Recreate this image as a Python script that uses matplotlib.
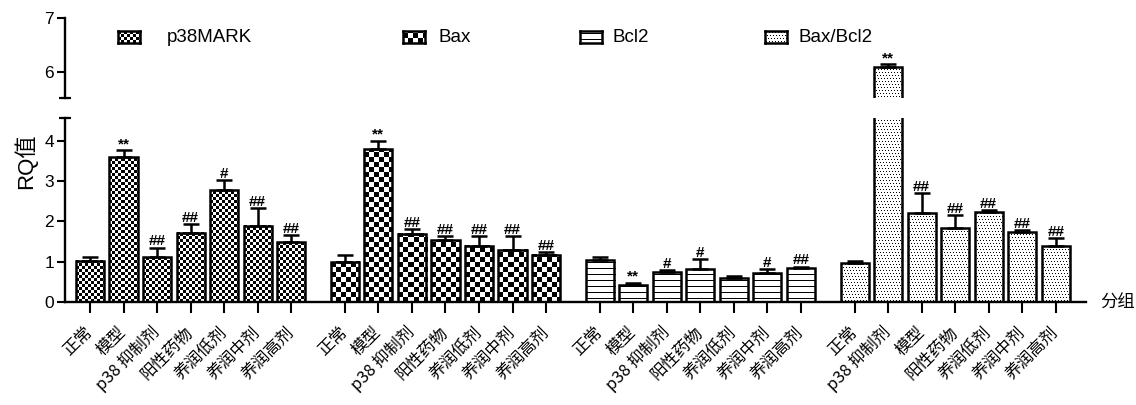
import numpy as np
import matplotlib
matplotlib.use("Agg")
import matplotlib.pyplot as plt

plt.rcParams['font.family'] = ['Liberation Sans Narrow', 'Liberation Sans', 'Noto Sans CJK SC', 'DejaVu Sans']

groups = ['p38MARK', 'Bax', 'Bcl2', 'Bax/Bcl2']
labels_std = ['正常', '模型', 'p38 抑制剂', '阳性药物', '养润低剂', '养润中剂', '养润高剂']
labels_ratio = ['正常', 'p38 抑制剂', '模型', '阳性药物', '养润低剂', '养润中剂', '养润高剂']

p38_vals = [1.03, 3.60, 1.11, 1.72, 2.78, 1.89, 1.49]
p38_err = [0.08, 0.17, 0.24, 0.22, 0.24, 0.45, 0.17]
p38_sig = ['', '**', '##', '##', '#', '##', '##']

bax_vals = [1.00, 3.80, 1.69, 1.53, 1.40, 1.30, 1.17]
bax_err = [0.17, 0.20, 0.12, 0.11, 0.24, 0.34, 0.06]
bax_sig = ['', '**', '##', '##', '##', '##', '##']

bcl2_vals = [1.04, 0.41, 0.74, 0.81, 0.60, 0.73, 0.84]
bcl2_err = [0.07, 0.07, 0.06, 0.26, 0.05, 0.08, 0.04]
bcl2_sig = ['', '**', '#', '#', '', '#', '##']

ratio_vals = [0.97, 6.09, 2.22, 1.85, 2.24, 1.73, 1.40]
ratio_err = [0.06, 0.05, 0.49, 0.30, 0.04, 0.05, 0.19]
ratio_sig = ['', '**', '##', '##', '##', '##', '##']

series = [
    (p38_vals, p38_err, p38_sig, labels_std, 'fine'),
    (bax_vals, bax_err, bax_sig, labels_std, 'checker'),
    (bcl2_vals, bcl2_err, bcl2_sig, labels_std, 'stripes'),
    (ratio_vals, ratio_err, ratio_sig, labels_ratio, 'dots'),
]


def pattern(kind, i, j):
    if kind == 'fine':
        return ((i // 3 + j // 3) % 2).astype(float)
    if kind == 'checker':
        return ((i // 5 + j // 5) % 2).astype(float)
    if kind == 'stripes':
        return (i % 6 == 3).astype(float)
    # dots
    return ((i % 3 == 1) & ((j + i // 3) % 3 == 1)).astype(float)


def fill_bar(ax, bar, kind):
    x0, y0 = bar.get_x(), bar.get_y()
    x1, y1 = x0 + bar.get_width(), y0 + bar.get_height()
    lo, hi = ax.get_ylim()
    y0c, y1c = max(y0, lo), min(y1, hi)
    if y1c <= y0c:
        return
    (px0, py0), (px1, py1) = ax.transData.transform([(x0, y0c), (x1, y1c)])
    nx, ny = int(np.ceil(px1 - px0)), int(np.ceil(py1 - py0))
    j, i = np.meshgrid(np.arange(nx), np.arange(ny))
    dx = (x1 - x0) / (px1 - px0)
    dy = (y1c - y0c) / (py1 - py0)
    ax.imshow(pattern(kind, i, j), cmap='gray_r', vmin=0, vmax=1, origin='lower',
              extent=(x0, x0 + nx * dx, y0c, y0c + ny * dy), interpolation='nearest',
              aspect='auto', clip_path=bar, zorder=2)


W, H = 1136, 405
fig = plt.figure(figsize=(W / 100, H / 100), dpi=100)
ax = fig.add_axes([65 / W, 1 - 302 / H, (1086 - 65) / W, (302 - 118) / H])
axt = fig.add_axes([65 / W, 1 - 98 / H, (1086 - 65) / W, (98 - 18) / H])

width = 0.84
gstep = 7.6
xlim = (-0.745, 3 * gstep + 6 + 0.9)
ylim_lo = (0, 4.57)
ylim_hi = (5.52, 7.0)

for a, yl in ((ax, ylim_lo), (axt, ylim_hi)):
    a.set_xlim(*xlim)
    a.set_ylim(*yl)
    for s in ('top', 'right'):
        a.spines[s].set_visible(False)
    a.spines['left'].set_linewidth(1.7)
    a.spines['bottom'].set_linewidth(1.7)
    a.tick_params(axis='y', length=6, width=1.5, labelsize=12.5, pad=2)

axt.spines['bottom'].set_visible(False)
axt.set_xticks([])
axt.set_yticks([6, 7])
ax.set_yticks([0, 1, 2, 3, 4])

ticks, ticklabels = [], []
for g, (vals, errs, sigs, labs, kind) in enumerate(series):
    x = g * gstep + np.arange(len(vals))
    ticks += list(x)
    ticklabels += labs
    for a in (ax, axt):
        bars = a.bar(x, vals, width, facecolor='none', edgecolor='black', linewidth=1.8, zorder=3)
        for b in bars:
            fill_bar(a, b, kind)
        a.errorbar(x, vals, yerr=[np.zeros(len(vals)), errs], fmt='none', ecolor='black',
                   elinewidth=1.8, capsize=6, capthick=1.8, zorder=4)
        a.set_xlim(*xlim)
    ax.set_ylim(*ylim_lo)
    axt.set_ylim(*ylim_hi)
    for xi, v, e, s in zip(x, vals, errs, sigs):
        if not s:
            continue
        top = v + e
        a = axt if top > ylim_lo[1] else ax
        a.text(xi, top - 0.02, s, ha='center', va='bottom', fontsize=11, fontweight='bold', zorder=5)

ax.set_xticks(ticks)
ax.set_xticklabels(ticklabels, rotation=45, ha='right', va='center', rotation_mode='anchor',
                   family=['Noto Sans CJK SC', 'DejaVu Sans'], fontsize=12)
ax.tick_params(axis='x', length=8, width=1.5, pad=12)

# break caps
ax.plot([0], [1], marker='_', markersize=9, mew=1.6, color='black', transform=ax.transAxes, clip_on=False)
axt.plot([0], [0], marker='_', markersize=9, mew=1.6, color='black', transform=axt.transAxes, clip_on=False)

fig.text(25 / W, 1 - 161 / H, 'RQ值', rotation=90, ha='center', va='center', fontsize=16,
         family=['Liberation Sans', 'Noto Sans CJK SC'])
fig.text(1100 / W, 1 - 303 / H, '分组', ha='left', va='center', fontsize=12.5,
         family=['Noto Sans CJK SC', 'DejaVu Sans'])

# legend row
handle_x = [118, 403, 580, 765]
text_x = [167, 438, 613, 798]
for hx, tx, name, (_, _, _, _, kind) in zip(handle_x, text_x, groups, series):
    hax = fig.add_axes([hx / W, 1 - 43 / H, 22 / W, 12 / H])
    jj, ii = np.meshgrid(np.arange(22), np.arange(12))
    hax.imshow(pattern(kind, ii, jj), cmap='gray_r', vmin=0, vmax=1, origin='lower',
               interpolation='nearest', aspect='auto')
    hax.set_xticks([])
    hax.set_yticks([])
    for s in hax.spines.values():
        s.set_linewidth(1.8)
    fig.text(tx / W, 1 - 38 / H, name, ha='left', va='center', fontsize=13.5)

fig.savefig('out.png', dpi=100)
